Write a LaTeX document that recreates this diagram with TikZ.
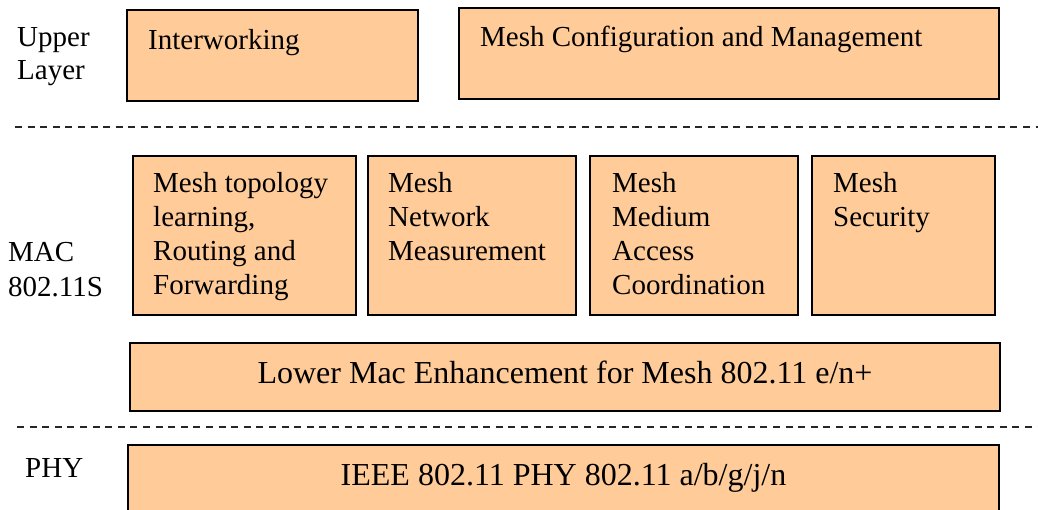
\documentclass[tikz,border=0pt]{standalone}
\usepackage{fontspec}
\setmainfont{Liberation Serif}
\definecolor{boxfill}{HTML}{FFCC99}
\newcommand{\stacklines}[1]{\begin{tabular}[t]{@{}l@{}}#1\end{tabular}}
\begin{document}
\begin{tikzpicture}[x=1pt,y=-1pt,
  layerbox/.style={draw=black, line width=1.8pt, fill=boxfill},
  txt/.style={inner sep=0pt, font=\fontsize{29}{34}\selectfont, text=black},
  bigtxt/.style={inner sep=0pt, font=\fontsize{32}{37}\selectfont, text=black},
  sepline/.style={draw=black!85, line width=1.5pt, dash pattern=on 7pt off 5.6pt}]
\clip (0,0) rectangle (1038,510);
\fill[white] (0,0) rectangle (1038,510);

% layer boxes
\draw[layerbox] (127,10) rectangle (418,101);
\draw[layerbox] (459,8) rectangle (999,99);
\draw[layerbox] (133,156) rectangle (356,315);
\draw[layerbox] (368,156) rectangle (576,315);
\draw[layerbox] (590,156) rectangle (798,315);
\draw[layerbox] (812,156) rectangle (995,315);
\draw[layerbox] (130,343) rectangle (1000,411);
\draw[layerbox] (128,445) rectangle (999,530);

% layer separators
\coordinate (s1a) at (15,127);
\coordinate (s1b) at (1040,127);
\coordinate (s2a) at (17,427);
\coordinate (s2b) at (1040,427);
\draw[sepline] (s1a) -- (s1b);
\draw[sepline] (s2a) -- (s2b);

% layer names
\node[txt, anchor=base west] (upper) at (17,47) {\fontsize{29}{33}\selectfont\stacklines{Upper\\Layer}};
\node[txt, anchor=base west] (macl) at (8,262) {\fontsize{29}{35}\selectfont\stacklines{MAC\\802.11S}};
\node[txt, anchor=base west] (phyl) at (25,477) {PHY};

% box texts
\node[txt, anchor=base west] (inter) at (148,50) {Interworking};
\node[txt, anchor=base west] (config) at (480,47) {Mesh Configuration and Management};
\node[txt, anchor=base west] (topo) at (153,193) {\stacklines{Mesh topology\\learning,\\Routing and\\Forwarding}};
\node[txt, anchor=base west] (meas) at (388,193) {\stacklines{Mesh\\Network\\Measurement}};
\node[txt, anchor=base west] (mac) at (612,193) {\stacklines{Mesh\\Medium\\Access\\Coordination}};
\node[txt, anchor=base west] (sec) at (833,193) {\stacklines{Mesh\\Security}};
\node[bigtxt, anchor=base] (lower) at (565,383) {Lower Mac Enhancement for Mesh 802.11 e/n+};
\node[bigtxt, anchor=base] (ieee) at (563.5,485) {IEEE 802.11 PHY 802.11 a/b/g/j/n};
\end{tikzpicture}
\end{document}
